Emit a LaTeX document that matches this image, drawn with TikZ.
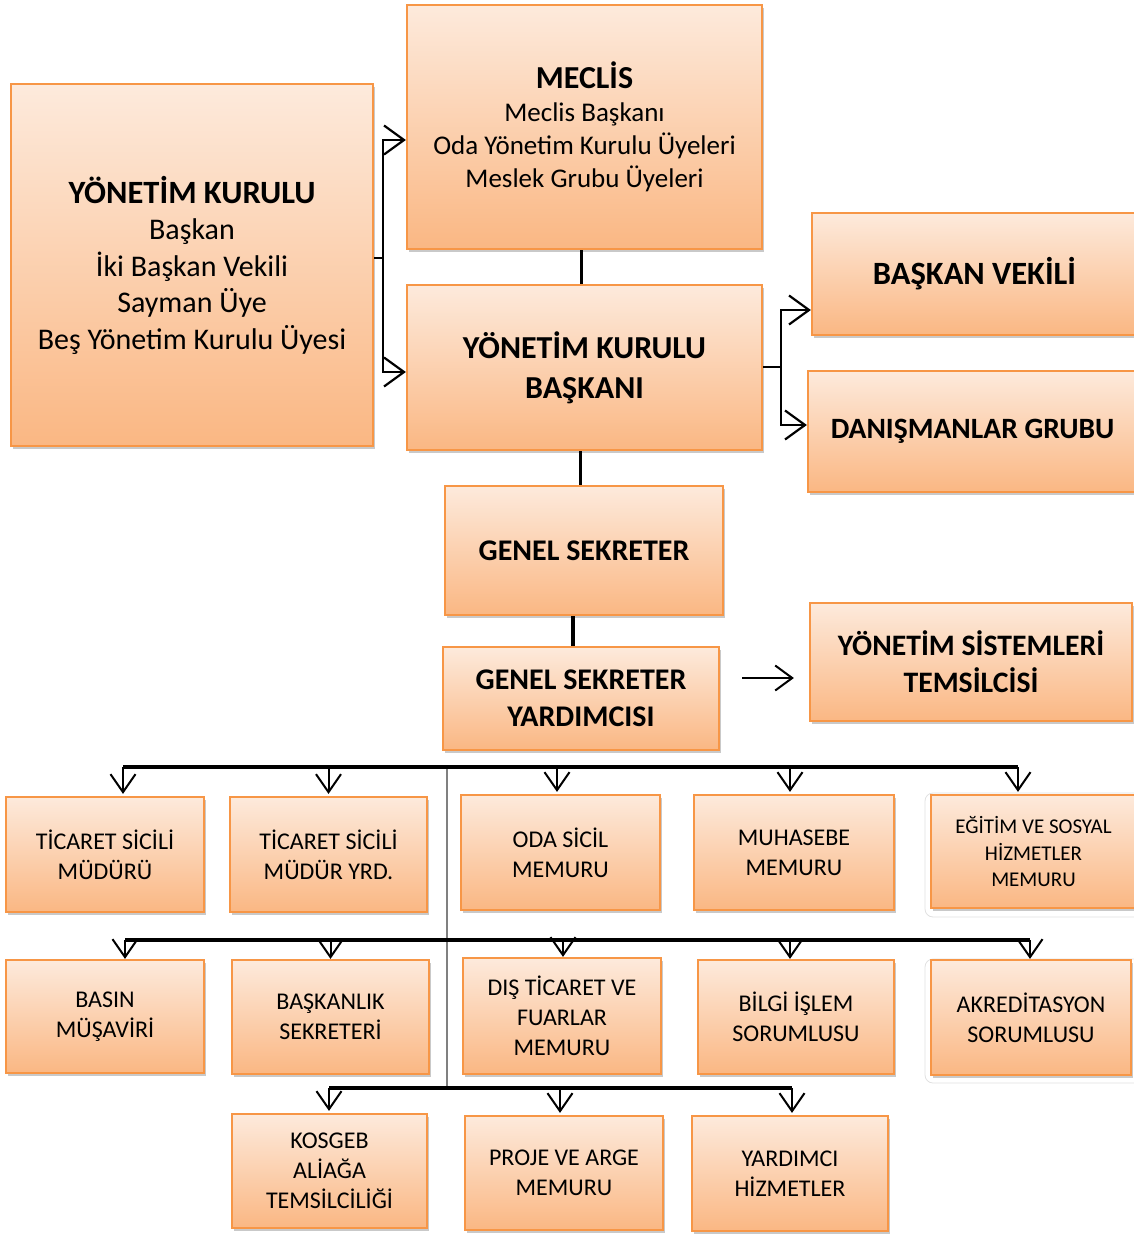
\documentclass[tikz,border=0pt]{standalone}
\usepackage{fontspec}
\setmainfont{Carlito}
\usetikzlibrary{arrows.meta,shadows}
\definecolor{bordc}{HTML}{F79646}
\definecolor{topc}{HTML}{FDEADC}
\definecolor{botc}{HTML}{FAB783}
\tikzset{
  box/.style={draw=bordc, line width=2.2pt, top color=topc, bottom color=botc,
    drop shadow={shadow xshift=1.5pt, shadow yshift=-3pt, opacity=0.3, fill=black!70},
    align=center, inner sep=2pt, anchor=center},
  rowtxt/.style={font=\fontsize{24}{30}\selectfont},
  conn/.style={line width=3.2pt, black},
  brk/.style={line width=2.4pt, black},
  arr/.style={line width=2.2pt, black, -{Straight Barb[length=20pt,width=29pt,line width=2.2pt]}},
  darr/.style={line width=2pt, black, -{Straight Barb[length=18pt,width=25pt,line width=2pt]}, shorten >=2pt},
  faint/.style={draw=black!12, line width=0.8pt, rounded corners=8pt},
}
\begin{document}
\begin{tikzpicture}[x=1pt,y=-1pt]
\useasboundingbox (0,0) rectangle (1133,1236);

% faint frames behind right-most boxes
\draw[faint] (925,793) rectangle (1145,917);
\draw[faint] (925,959) rectangle (1145,1083);

% top boxes
\node[box, minimum width=362pt, minimum height=362pt, font=\fontsize{30}{36.5}\selectfont] (yk) at (192,265)
  {{\fontsize{32.5}{39}\selectfont\bfseries YÖNETİM KURULU}\\ Başkan\\ İki Başkan Vekili\\ Sayman Üye\\ Beş Yönetim Kurulu Üyesi};
\node[box, minimum width=355pt, minimum height=244pt, font=\fontsize{27}{33}\selectfont] (meclis) at (584.5,127)
  {{\fontsize{32}{37}\selectfont\bfseries MECLİS}\\ Meclis Başkanı\\ Oda Yönetim Kurulu Üyeleri\\ Meslek Grubu Üyeleri};
\node[box, minimum width=355pt, minimum height=165pt, font=\fontsize{32}{40}\selectfont\bfseries] (ykb) at (584.5,367.5)
  {YÖNETİM KURULU\\ BAŞKANI};
\node[box, minimum width=325pt, minimum height=122pt, font=\fontsize{32.5}{38}\selectfont\bfseries] (bv) at (974.5,274)
  {BAŞKAN VEKİLİ};
\node[box, minimum width=329pt, minimum height=121pt, font=\fontsize{29.5}{36}\selectfont\bfseries] (dg) at (972.5,431.5)
  {DANIŞMANLAR GRUBU};
\node[box, minimum width=278pt, minimum height=129pt, font=\fontsize{30}{37}\selectfont\bfseries] (gs) at (584,550.5)
  {GENEL SEKRETER};
\node[box, minimum width=276pt, minimum height=103pt, font=\fontsize{30}{37}\selectfont\bfseries] (gsy) at (581,698.5)
  {GENEL SEKRETER\\ YARDIMCISI};
\node[box, minimum width=322pt, minimum height=118pt, font=\fontsize{29.7}{37}\selectfont\bfseries] (yst) at (971,662)
  {YÖNETİM SİSTEMLERİ\\ TEMSİLCİSİ};

% row 1
\node[box, rowtxt, minimum width=198pt, minimum height=115pt] (t1) at (105,854.5) {TİCARET SİCİLİ\\ MÜDÜRÜ};
\node[box, rowtxt, minimum width=197pt, minimum height=115pt] (t2) at (328.5,854.5) {TİCARET SİCİLİ\\ MÜDÜR YRD.};
\node[box, rowtxt, minimum width=199pt, minimum height=115pt] (t3) at (560.5,852.5) {ODA SİCİL\\ MEMURU};
\node[box, rowtxt, minimum width=200pt, minimum height=115pt] (t4) at (794,852.5) {MUHASEBE\\ MEMURU};
\node[box, minimum width=205pt, minimum height=113pt, font=\fontsize{21}{26.5}\selectfont] (t5) at (1033.5,851.5) {EĞİTİM VE SOSYAL\\ HİZMETLER\\ MEMURU};

% row 2
\node[box, rowtxt, minimum width=198pt, minimum height=113pt] (u1) at (105,1016.5) {BASIN\\ MÜŞAVİRİ};
\node[box, rowtxt, minimum width=197pt, minimum height=114pt] (u2) at (330.5,1017) {BAŞKANLIK\\ SEKRETERİ};
\node[box, rowtxt, minimum width=198pt, minimum height=116pt] (u3) at (562,1016) {DIŞ TİCARET VE\\ FUARLAR\\ MEMURU};
\node[box, rowtxt, minimum width=196pt, minimum height=114pt] (u4) at (796,1017) {BİLGİ İŞLEM\\ SORUMLUSU};
\node[box, rowtxt, minimum width=200pt, minimum height=115pt] (u5) at (1031,1017.5) {AKREDİTASYON\\ SORUMLUSU};

% row 3
\node[box, rowtxt, minimum width=195pt, minimum height=114pt] (v1) at (329.5,1171) {KOSGEB\\ ALİAĞA\\ TEMSİLCİLİĞİ};
\node[box, rowtxt, minimum width=198pt, minimum height=114pt] (v2) at (564,1173) {PROJE VE ARGE\\ MEMURU};
\node[box, rowtxt, minimum width=196pt, minimum height=115pt] (v3) at (790,1173.5) {YARDIMCI\\ HİZMETLER};

% top connectors
\coordinate (bk) at (383,258);
\draw[brk] ([yshift=7pt]yk.east) -- (bk);
\draw[arr] (bk) |- ([yshift=-13pt]meclis.west);
\draw[arr] (bk) |- ([yshift=-4.5pt]ykb.west);
\draw[conn] ([xshift=-3pt]meclis.south) -- ([xshift=-3pt]ykb.north);
\coordinate (bk2) at (781,367);
\draw[brk] ([yshift=0.5pt]ykb.east) -- (bk2);
\draw[arr] (bk2) |- ([yshift=-36pt]bv.west);
\draw[arr] (bk2) |- ([yshift=6.5pt]dg.west);
\draw[conn] ([xshift=-4pt]ykb.south) -- ([xshift=-4pt]ykb.south |- gs.north);
\draw[conn] ([xshift=-11pt]gs.south) -- ([xshift=-11pt]gs.south |- gsy.north);
\coordinate (fa) at (742,678);
\draw[line width=2pt, -{Straight Barb[length=17pt,width=25pt,line width=2pt]}, shorten >=15pt] (fa) -- (fa -| yst.west);

% row lines
\coordinate (r1L) at (123,767);
\coordinate (r1R) at (1018,767);
\coordinate (r2L) at (125,940);
\coordinate (r2R) at (1030,940);
\coordinate (r3L) at (329,1088);
\coordinate (r3R) at (792,1088);
\coordinate (g1) at (447,767);
\coordinate (g2) at (447,1088);
\draw[line width=2pt, black!50] (g1) -- (g2);
\draw[conn] (r1L) -- (r1R);
\draw[conn] (r2L) -- (r2R);
\draw[conn] (r3L) -- (r3R);

\draw[darr] (r1L) -- (r1L |- t1.north);
\draw[darr] (r1L -| t2.north) -- (t2.north);
\draw[darr] ([xshift=-3.5pt]r1L -| t3.north) -- ([xshift=-3.5pt]t3.north);
\draw[darr] ([xshift=-4pt]r1L -| t4.north) -- ([xshift=-4pt]t4.north);
\draw[darr] (r1R) -- (r1R |- t5.north);

\draw[darr, shorten >=0pt] (r2L) -- (r2L |- u1.north);
\draw[darr, shorten >=0pt] (r2L -| u2.north) -- (u2.north);
\draw[darr, shorten >=0pt] ([xshift=1pt]r2L -| u3.north) -- ([xshift=1pt]u3.north);
\draw[darr, shorten >=0pt] ([xshift=-6pt]r2L -| u4.north) -- ([xshift=-6pt]u4.north);
\draw[darr, shorten >=0pt] (r2R) -- (r2R |- u5.north);

\draw[darr] (r3L) -- (r3L |- v1.north);
\draw[darr] ([xshift=-4pt]r3L -| v2.north) -- ([xshift=-4pt]v2.north);
\draw[darr] (r3R) -- (r3R |- v3.north);
\end{tikzpicture}
\end{document}
